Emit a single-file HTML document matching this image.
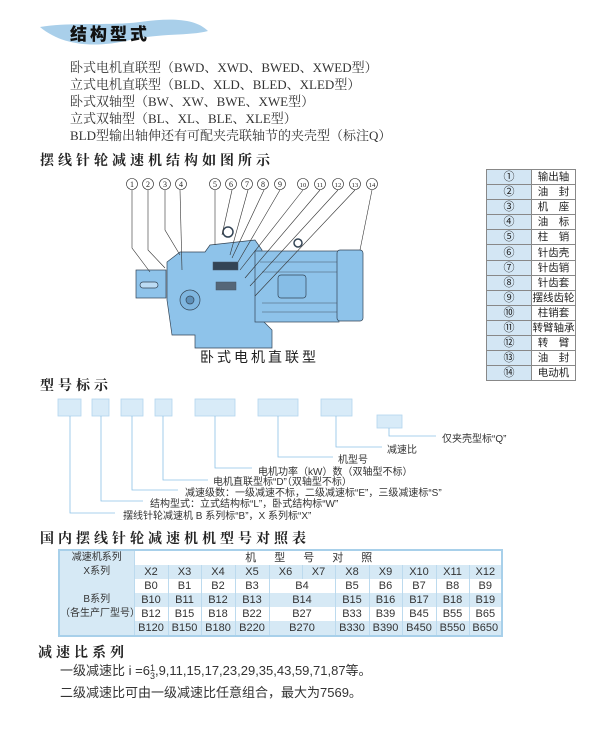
<!DOCTYPE html>
<html><head><meta charset="utf-8"><style>
body{margin:0;background:#fff;}
#p{position:relative;width:600px;height:730px;overflow:hidden;font-family:"Liberation Sans","Noto Sans CJK SC",sans-serif;color:#222;}
.a{position:absolute;white-space:nowrap;}
.t{font-family:"Liberation Serif","Noto Serif CJK SC",serif;font-size:13px;color:#333;}
.h{font-family:"Noto Serif CJK SC",serif;font-weight:bold;font-size:14px;letter-spacing:4px;color:#222;}
.s{font-size:10px;color:#333;}
table{border-collapse:collapse;}
#rt{position:absolute;left:486px;top:169px;width:90px;}
#rt td{border:1px solid #888;height:14.1px;padding:0;font-size:10.5px;text-align:center;line-height:14px;}
#rt td:first-child{background:#d3e6f4;width:44px;font-size:11px;}
#mt{position:absolute;left:58px;top:549px;width:443px;border:2px solid #a8d0ea;table-layout:fixed;}
#mt td{height:14px;padding:0;font-size:11px;text-align:center;line-height:14px;color:#333;border-left:1px solid #bcdaee;white-space:nowrap;overflow:hidden;}
#mt td.f{font-size:10px;border-left:none;}
.bl{background:#d6e9f5;}
</style></head><body><div id="p">
<svg class="a" style="left:0;top:0" width="600" height="730">
<path d="M40 27 C70 22 110 26 140 22 C170 18 195 18 208 31 C190 36 160 33 130 40 C100 47 65 48 40 27Z" fill="#a9cfea"/>
<g stroke="#345" stroke-width="0.7" fill="#8ec3ea">
<rect x="136" y="270" width="30" height="28"/>
<rect x="140" y="282" width="18" height="6" rx="3" fill="#bcdcf4"/>
<path d="M167 262 L180 252 L205 252 L210 245 L255 240 L262 250 L262 320 L272 330 L272 348 L195 348 L195 335 L172 335 L167 300Z"/>
<rect x="255" y="251" width="84" height="71"/>
<rect x="337" y="250" width="26" height="71" rx="3"/>
<rect x="278" y="275" width="28" height="23" rx="3" fill="#86bde6"/>
<circle cx="190" cy="300" r="10" fill="#7fb6e0"/>
<circle cx="190" cy="300" r="4" fill="#5e8fb8"/>
<circle cx="228" cy="232" r="5" fill="none" stroke-width="1.5"/>
<circle cx="298" cy="243" r="4" fill="none" stroke-width="1.5"/>
</g>
<g stroke="#456" stroke-width="0.5">
<line x1="260" y1="262" x2="337" y2="262"/><line x1="262" y1="272" x2="337" y2="272"/><line x1="262" y1="303" x2="337" y2="303"/><line x1="262" y1="312" x2="337" y2="312"/>
<rect x="213" y="262" width="25" height="8" fill="#345"/><rect x="216" y="282" width="20" height="8" fill="#567"/>
</g>
<g stroke="#333" stroke-width="0.6" fill="none">
<path d="M132 190 L132 248 L150 272"/><path d="M148 190 L148 250 L165 268"/><path d="M165 190 L165 230 L180 255"/><path d="M180 190 L182 270"/>
<path d="M215 190 L215 245"/><path d="M232 190 L222 235"/><path d="M248 190 L230 255"/><path d="M264 190 L232 258"/><path d="M280 190 L238 262"/>
<path d="M303 190 L240 270"/><path d="M320 190 L245 278"/><path d="M338 190 L250 286"/><path d="M355 190 L255 296"/><path d="M372 190 L360 250"/>
</g>
<g font-family="Liberation Serif,DejaVu Serif,serif" font-size="10" text-anchor="middle" fill="#222" stroke="#222" stroke-width="0.6">
<g fill="none"><circle cx="132" cy="184" r="5.5"/><circle cx="148" cy="184" r="5.5"/><circle cx="165" cy="184" r="5.5"/><circle cx="181" cy="184" r="5.5"/><circle cx="215" cy="184" r="5.5"/><circle cx="231" cy="184" r="5.5"/><circle cx="247" cy="184" r="5.5"/><circle cx="263" cy="184" r="5.5"/><circle cx="280" cy="184" r="5.5"/><circle cx="303" cy="184" r="5.5"/><circle cx="320" cy="184" r="5.5"/><circle cx="338" cy="184" r="5.5"/><circle cx="355" cy="184" r="5.5"/><circle cx="372" cy="184" r="5.5"/></g>
<g stroke="none" font-size="8"><text x="132" y="187">1</text><text x="148" y="187">2</text><text x="165" y="187">3</text><text x="181" y="187">4</text><text x="215" y="187">5</text><text x="231" y="187">6</text><text x="247" y="187">7</text><text x="263" y="187">8</text><text x="280" y="187">9</text><text x="303" y="187" font-size="6.5">10</text><text x="320" y="187" font-size="6.5">11</text><text x="338" y="187" font-size="6.5">12</text><text x="355" y="187" font-size="6.5">13</text><text x="372" y="187" font-size="6.5">14</text></g>
</g>
<g fill="#d8ebf8" stroke="#b3d5ee" stroke-width="0.8">
<rect x="58" y="399" width="23" height="17"/><rect x="92" y="399" width="17" height="17"/><rect x="121" y="399" width="22" height="17"/><rect x="155" y="399" width="17" height="17"/><rect x="195" y="399" width="40" height="17"/><rect x="258" y="399" width="40" height="17"/><rect x="321" y="399" width="31" height="17"/><rect x="377" y="415" width="25" height="13"/>
</g>
<g stroke="#8cc2e6" stroke-width="0.8" fill="none">
<path d="M70 416 V513 H115"/><path d="M101 416 V501 H143"/><path d="M132 416 V490 H178"/><path d="M163 416 V480 H208"/><path d="M215 416 V468 H252"/><path d="M278 416 V457 H333"/><path d="M336 416 V447 H382"/><path d="M389 428 V436 H436"/>
</g>
</svg>
<div class="a" style="left:70px;top:20px;font-family:'Noto Sans CJK SC',sans-serif;font-weight:900;font-size:17px;letter-spacing:3px;color:#111;">结构型式</div>
<div class="a t" style="left:70px;top:57px;">卧式电机直联型（BWD、XWD、BWED、XWED型）</div>
<div class="a t" style="left:70px;top:74px;">立式电机直联型（BLD、XLD、BLED、XLED型）</div>
<div class="a t" style="left:70px;top:91px;">卧式双轴型（BW、XW、BWE、XWE型）</div>
<div class="a t" style="left:70px;top:108px;">立式双轴型（BL、XL、BLE、XLE型）</div>
<div class="a t" style="left:70px;top:125px;">BLD型输出轴伸还有可配夹壳联轴节的夹壳型（标注Q）</div>
<div class="a h" style="left:40px;top:150px;">摆线针轮减速机结构如图所示</div>
<div class="a" style="left:200px;top:347px;font-size:14px;letter-spacing:3px;color:#222;">卧式电机直联型</div>
<table id="rt">
<tr><td>①</td><td>输出轴</td></tr><tr><td>②</td><td>油　封</td></tr><tr><td>③</td><td>机　座</td></tr><tr><td>④</td><td>油　标</td></tr><tr><td>⑤</td><td>柱　销</td></tr><tr><td>⑥</td><td>针齿壳</td></tr><tr><td>⑦</td><td>针齿销</td></tr><tr><td>⑧</td><td>针齿套</td></tr><tr><td>⑨</td><td>摆线齿轮</td></tr><tr><td>⑩</td><td>柱销套</td></tr><tr><td>⑪</td><td>转臂轴承</td></tr><tr><td>⑫</td><td>转　臂</td></tr><tr><td>⑬</td><td>油　封</td></tr><tr><td>⑭</td><td>电动机</td></tr>
</table>
<div class="a h" style="left:40px;top:375px;">型号标示</div>
<div class="a s" style="left:442px;top:430px;">仅夹壳型标“Q”</div>
<div class="a s" style="left:387px;top:441px;">减速比</div>
<div class="a s" style="left:338px;top:451px;">机型号</div>
<div class="a s" style="left:258px;top:463px;">电机功率（kW）数（双轴型不标）</div>
<div class="a s" style="left:213px;top:473px;">电机直联型标“D”（双轴型不标）</div>
<div class="a s" style="left:185px;top:484px;">减速级数：一级减速不标，二级减速标“E”，三级减速标“S”</div>
<div class="a s" style="left:150px;top:495px;">结构型式：立式结构标“L”，卧式结构标“W”</div>
<div class="a s" style="left:123px;top:507px;">摆线针轮减速机 B 系列标“B”，X 系列标“X”</div>
<div class="a h" style="left:40px;top:528px;">国内摆线针轮减速机机型号对照表</div>
<table id="mt">
<colgroup><col style="width:75px"><col style="width:34px"><col style="width:33px"><col style="width:34px"><col style="width:34px"><col style="width:33px"><col style="width:33px"><col style="width:34px"><col style="width:33px"><col style="width:34px"><col style="width:33px"><col style="width:33px"></colgroup>
<tr><td class="bl f">减速机系列</td><td colspan="11" style="letter-spacing:18px">机型号对照</td></tr>
<tr class="bl"><td class="f">X系列</td><td>X2</td><td>X3</td><td>X4</td><td>X5</td><td>X6</td><td>X7</td><td>X8</td><td>X9</td><td>X10</td><td>X11</td><td>X12</td></tr>
<tr><td class="bl f" rowspan="4">B系列<br>（各生产厂型号）</td><td>B0</td><td>B1</td><td>B2</td><td>B3</td><td colspan="2">B4</td><td>B5</td><td>B6</td><td>B7</td><td>B8</td><td>B9</td></tr>
<tr class="bl"><td>B10</td><td>B11</td><td>B12</td><td>B13</td><td colspan="2">B14</td><td>B15</td><td>B16</td><td>B17</td><td>B18</td><td>B19</td></tr>
<tr><td>B12</td><td>B15</td><td>B18</td><td>B22</td><td colspan="2">B27</td><td>B33</td><td>B39</td><td>B45</td><td>B55</td><td>B65</td></tr>
<tr class="bl"><td>B120</td><td>B150</td><td>B180</td><td>B220</td><td colspan="2">B270</td><td>B330</td><td>B390</td><td>B450</td><td>B550</td><td>B650</td></tr>
</table>
<div class="a h" style="left:38px;top:642px;">减速比系列</div>
<div class="a" style="left:60px;top:660px;font-size:13px;color:#333;">一级减速比 i =6<span style="display:inline-block;font-size:9px;line-height:8px;vertical-align:middle;text-align:center">1<br>3</span>,9,11,15,17,23,29,35,43,59,71,87等。</div>
<div class="a" style="left:60px;top:682px;font-size:13px;color:#333;">二级减速比可由一级减速比任意组合，最大为7569。</div>
</div></body></html>
